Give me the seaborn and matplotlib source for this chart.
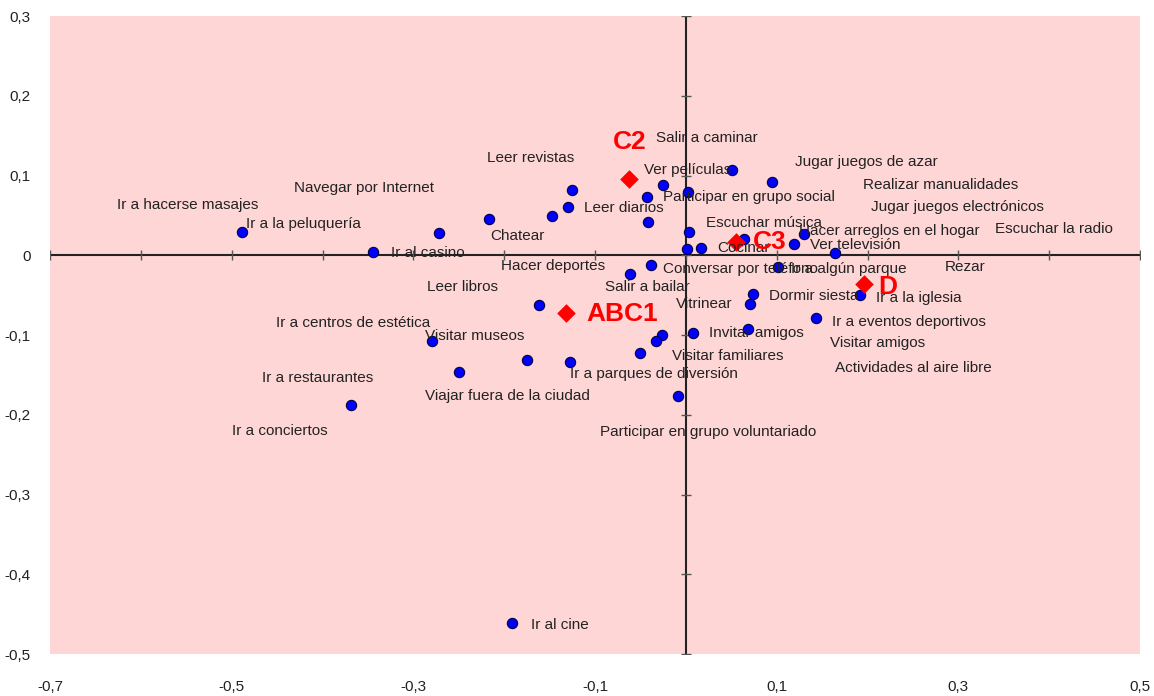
import numpy as np
import pandas as pd
import seaborn as sns
import matplotlib.pyplot as plt
from matplotlib.ticker import FuncFormatter

# actividades (puntos azules)
act_x = [-0.489, -0.344, -0.272, -0.217, -0.147, -0.130, -0.125, -0.025, -0.043, -0.042,
         0.002, 0.051, 0.095, 0.004, 0.001, 0.0165, 0.064, 0.119, 0.130, 0.164,
         0.102, 0.192, 0.0735, 0.071, 0.143, -0.038, -0.061, -0.162, -0.0265, -0.033,
         0.0074, 0.068, -0.050, -0.128, -0.175, -0.0085, -0.279, -0.250, -0.369, -0.191]
act_y = [0.029, 0.004, 0.028, 0.045, 0.049, 0.060, 0.082, 0.088, 0.073, 0.042,
         0.079, 0.107, 0.092, 0.029, 0.0075, 0.009, 0.021, 0.014, 0.027, 0.003,
         -0.015, -0.050, -0.049, -0.061, -0.079, -0.0125, -0.024, -0.063, -0.100, -0.107,
         -0.098, -0.093, -0.1225, -0.134, -0.131, -0.176, -0.107, -0.147, -0.188, -0.461]

# etiquetas de actividades y su posicion
etiquetas = ["Ir a hacerse masajes", "Ir a la peluquería", "Navegar por Internet", "Leer revistas",
             "Chatear", "Ir al casino", "Leer diarios", "Salir a caminar", "Ver películas",
             "Participar en grupo social", "Jugar juegos de azar", "Realizar manualidades",
             "Jugar juegos electrónicos", "Escuchar música", "Hacer arreglos en el hogar",
             "Escuchar la radio", "Ver televisión", "Cocinar", "Hacer deportes",
             "Conversar por teléfono", "Ir a algún parque", "Rezar", "Leer libros",
             "Salir a bailar", "Dormir siesta", "Ir a la iglesia", "Vitrinear",
             "Ir a centros de estética", "Visitar museos", "Invitar amigos",
             "Ir a eventos deportivos", "Visitar amigos", "Visitar familiares",
             "Ir a restaurantes", "Ir a parques de diversión", "Actividades al aire libre",
             "Viajar fuera de la ciudad", "Ir a conciertos", "Participar en grupo voluntariado",
             "Ir al cine"]
etq_x = [-0.626, -0.484, -0.431, -0.219, -0.215, -0.325, -0.1125, -0.033, -0.046, -0.025,
         0.120, 0.195, 0.204, 0.022, 0.125, 0.340, 0.137, 0.035, -0.204, -0.025,
         0.116, 0.285, -0.285, -0.089, 0.0915, 0.2095, -0.011, -0.451, -0.287, 0.025,
         0.161, 0.159, -0.0155, -0.4665, -0.128, 0.164, -0.287, -0.4995, -0.094, -0.170]
etq_y = [0.063, 0.039, 0.084, 0.122, 0.024, 0.0025, 0.059, 0.147, 0.107, 0.073,
         0.117, 0.088, 0.061, 0.041, 0.030, 0.033, 0.0125, 0.009, -0.014, -0.0175,
         -0.0175, -0.015, -0.040, -0.040, -0.051, -0.053, -0.061, -0.085, -0.1015, -0.098,
         -0.084, -0.110, -0.1265, -0.154, -0.149, -0.142, -0.177, -0.221, -0.222, -0.464]

# grupos socioeconomicos (rombos rojos)
grupos = ["C2", "ABC1", "C3", "D"]
grp_x = [-0.0625, -0.132, 0.055, 0.196]
grp_y = [0.096, -0.073, 0.017, -0.036]
grp_lx = [-0.0805, -0.110, 0.074, 0.212]
grp_ly = [0.142, -0.074, 0.016, -0.040]

d = pd.DataFrame({"x": act_x, "y": act_y})
g = pd.DataFrame({"x": grp_x, "y": grp_y, "Grupo": grupos})

sns.set_style("white")
plt.rcParams['font.family'] = ['Liberation Sans', 'DejaVu Sans']

fig = plt.figure(figsize=(11.54, 6.96), dpi=100)
ax = fig.add_axes([50 / 1154, 42 / 696, 1090 / 1154, 638 / 696])
ax.set_facecolor("#ffd6d6")

ax.axhline(0, color="#222222", lw=1.5, zorder=1)
ax.axvline(0, color="#222222", lw=1.5, zorder=1)
# marcas sobre los ejes centrales
xt = np.round(np.arange(-0.7, 0.51, 0.1), 2)
yt = np.round(np.arange(-0.5, 0.31, 0.1), 2)
ax.plot(xt, np.zeros_like(xt), ls="none", marker="|", ms=7, color="#555555", zorder=1)
ax.plot(np.zeros_like(yt), yt, ls="none", marker="_", ms=7, color="#555555", zorder=1)

sns.scatterplot(x="x", y="y", data=d, ax=ax, color="#0000ff", s=55,
                edgecolor="#000044", linewidth=0.8, zorder=3)
sns.scatterplot(x="x", y="y", data=g, ax=ax, color="red", marker="D", s=90,
                edgecolor="red", linewidth=0, zorder=3)

for t, tx, ty in zip(etiquetas, etq_x, etq_y):
    ax.text(tx, ty, t, fontsize=11, color="#222222", ha="left", va="center", zorder=4)
for t, tx, ty in zip(grupos, grp_lx, grp_ly):
    ax.text(tx, ty, t, fontsize=19, color="red", fontweight="bold", ha="left", va="center", zorder=4)

ax.set_xlim(-0.7, 0.5)
ax.set_ylim(-0.5, 0.3)
ax.set_xticks(np.round(np.arange(-0.7, 0.51, 0.2), 2))
ax.set_yticks(yt)
fmt = FuncFormatter(lambda v, p: ("%.1f" % v).replace(".", ",").replace("-0,0", "0"))
ax.xaxis.set_major_formatter(fmt)
ax.yaxis.set_major_formatter(fmt)
ax.tick_params(axis="both", length=0, labelsize=11, colors="#222222")
ax.tick_params(axis="x", pad=19)
ax.tick_params(axis="y", pad=14)
ax.set_xlabel("")
ax.set_ylabel("")
for s in ax.spines.values():
    s.set_visible(False)

plt.savefig("out.png", dpi=100)
